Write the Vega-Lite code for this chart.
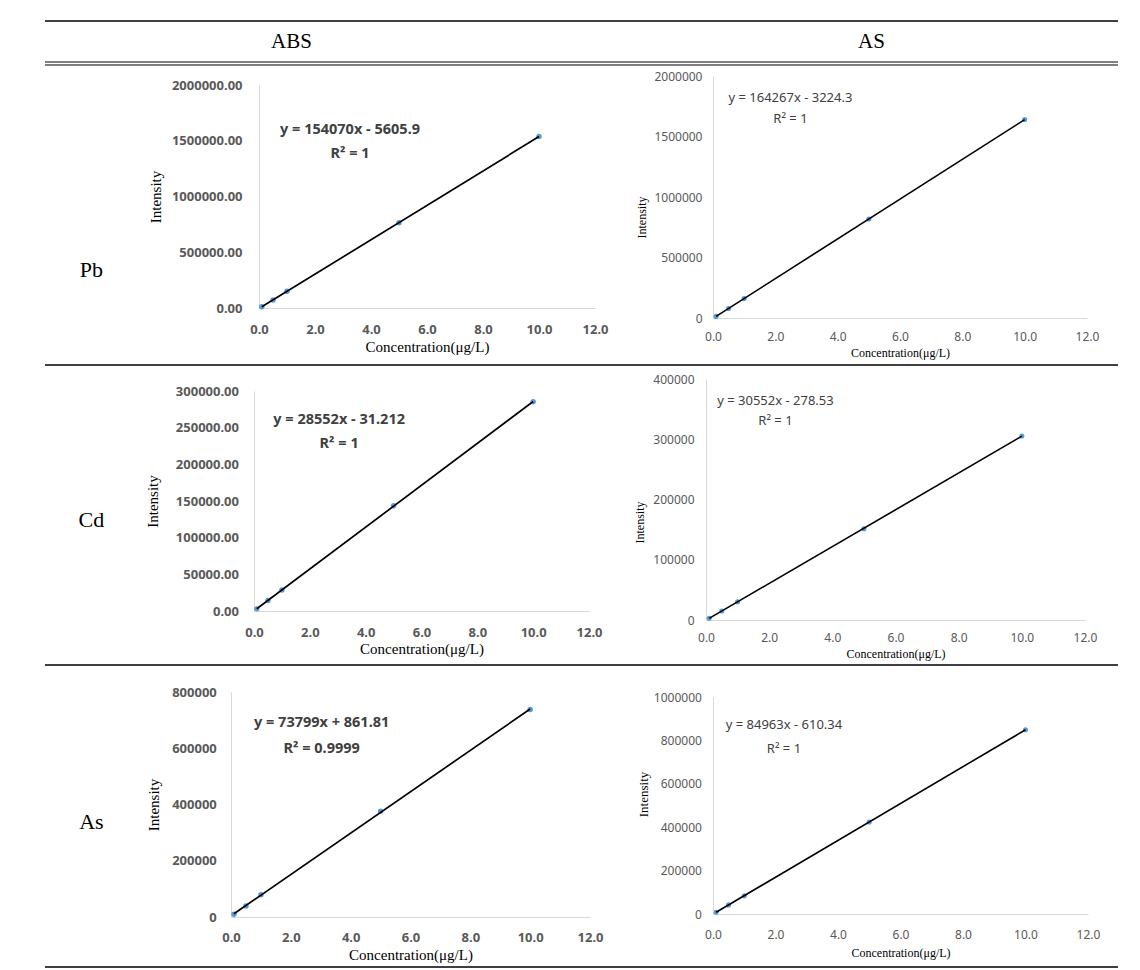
{
  "$schema": "https://vega.github.io/schema/vega-lite/v6.json",
  "background": "white",
  "padding": {"left": 43, "top": 19, "right": 5, "bottom": 0},
  "spacing": 0,
  "config": {
    "view": {"stroke": "transparent"},
    "concat": {"spacing": 0},
    "axis": {
      "grid": false, "ticks": false, "tickSize": 0,
      "domainColor": "#d9d9d9", "domainWidth": 1,
      "labelFont": "Noto Sans", "labelColor": "#595959",
      "labelFlush": false, "labelOverlap": false,
      "titleFont": "Liberation Serif", "titleFontWeight": "normal", "titleColor": "#000000"
    }
  },
  "vconcat": [
    {"width": 1073, "height": 1, "data": {"values": [{}]},
     "mark": {"type": "rule", "color": "#000000", "strokeWidth": 1.3},
     "encoding": {"y": {"datum": 1, "type": "quantitative", "scale": {"domain": [0, 1]}, "axis": null}}},
    {"width": 1073, "height": 35,
     "data": {"values": [{"method": "ABS"}, {"method": "AS"}]},
     "mark": {"type": "text", "font": "Liberation Serif", "fontSize": 21, "color": "#000000"},
     "encoding": {
       "x": {"field": "method", "type": "nominal", "scale": {"type": "point", "padding": 0.425, "align": 0.5}, "axis": null},
       "text": {"field": "method"}
     }},
    {"width": 1073, "height": 3, "data": {"values": [{}]},
     "layer": [
       {"mark": {"type": "rule", "color": "#000000", "strokeWidth": 1.2},
        "encoding": {"y": {"datum": 0, "type": "quantitative", "scale": {"domain": [0, 1]}, "axis": null}}},
       {"mark": {"type": "rule", "color": "#000000", "strokeWidth": 1.2},
        "encoding": {"y": {"datum": 1, "type": "quantitative"}}}
     ]},
    {"spacing": 0, "hconcat": [
      {"width": 101, "height": 294, "data": {"values": [{"element": "Pb"}]},
       "mark": {"type": "text", "font": "Liberation Serif", "fontSize": 22, "color": "#000000"},
       "encoding": {
         "text": {"field": "element"},
         "x": {"datum": 0.459, "type": "quantitative", "scale": {"domain": [0, 1]}, "axis": null},
         "y": {"datum": 0.686, "type": "quantitative", "scale": {"domain": [0, 1], "reverse": true}, "axis": null}
       }},
      {"spacing": 0, "vconcat": [
        {"width": 1, "height": 10, "data": {"values": []}, "mark": "point", "encoding": {}},
        {"width": 336, "height": 223,
         "data": {"values": [
           {"conc": 0.1, "intensity": 10500}, {"conc": 0.5, "intensity": 72000}, {"conc": 1, "intensity": 150000},
           {"conc": 5, "intensity": 765000}, {"conc": 10, "intensity": 1538000}]},
         "layer": [
           {"mark": {"type": "point", "filled": true, "size": 30, "color": "#5B9BD5", "opacity": 1},
            "encoding": {
              "x": {"field": "conc", "type": "quantitative", "scale": {"domain": [0, 12], "nice": false},
                    "axis": {"title": "Concentration(μg/L)", "values": [0, 2, 4, 6, 8, 10, 12], "tickCount": 20, "format": ".1f", "labelOverlap": false,
                             "labelFontSize": 13, "labelFontWeight": "bold", "labelPadding": 15,
                             "titleFontSize": 15, "titlePadding": 3}},
              "y": {"field": "intensity", "type": "quantitative", "scale": {"domain": [0, 2000000], "nice": false},
                    "axis": {"title": "Intensity", "values": [0, 500000, 1000000, 1500000, 2000000], "tickCount": 20, "format": ".2f", "labelOverlap": false,
                             "labelFontSize": 13, "labelFontWeight": "bold", "labelPadding": 17,
                             "titleFontSize": 15, "titlePadding": 8}}
            }},
           {"transform": [{"regression": "intensity", "on": "conc"}],
            "mark": {"type": "line", "color": "#000000", "strokeWidth": 1.7},
            "encoding": {"x": {"field": "conc", "type": "quantitative"}, "y": {"field": "intensity", "type": "quantitative"}}},
           {"data": {"values": [{"eq": "y = 154070x - 5605.9", "r2": "R² = 1"}]},
            "layer": [
              {"mark": {"type": "text", "font": "Noto Sans", "fontSize": 14.5, "fontWeight": "bold", "color": "#404040"},
               "encoding": {"text": {"field": "eq"}, "x": {"datum": 3.25}, "y": {"datum": 1597000}}},
              {"mark": {"type": "text", "font": "Noto Sans", "fontSize": 14.5, "fontWeight": "bold", "color": "#404040"},
               "encoding": {"text": {"field": "r2"}, "x": {"datum": 3.25}, "y": {"datum": 1382000}}}
            ]}
         ]}
      ]},
      {"width": 26, "height": 1, "data": {"values": []}, "mark": "point", "encoding": {}},
      {"spacing": 0, "vconcat": [
        {"width": 1, "height": 1, "data": {"values": []}, "mark": "point", "encoding": {}},
        {"width": 374, "height": 242,
         "data": {"values": [
           {"conc": 0.1, "intensity": 13200}, {"conc": 0.5, "intensity": 79000}, {"conc": 1, "intensity": 161000},
           {"conc": 5, "intensity": 818000}, {"conc": 10, "intensity": 1640000}]},
         "layer": [
           {"mark": {"type": "point", "filled": true, "size": 26, "color": "#5B9BD5", "opacity": 1},
            "encoding": {
              "x": {"field": "conc", "type": "quantitative", "scale": {"domain": [0, 12], "nice": false},
                    "axis": {"title": "Concentration(μg/L)", "values": [0, 2, 4, 6, 8, 10, 12], "tickCount": 20, "format": ".1f", "labelOverlap": false,
                             "labelFontSize": 12, "labelFontWeight": "normal", "labelPadding": 13.5,
                             "titleFontSize": 12, "titlePadding": 5}},
              "y": {"field": "intensity", "type": "quantitative", "scale": {"domain": [0, 2000000], "nice": false},
                    "axis": {"title": "Intensity", "values": [0, 500000, 1000000, 1500000, 2000000], "tickCount": 20, "format": "d", "labelOverlap": false,
                             "labelFontSize": 12, "labelFontWeight": "normal", "labelPadding": 11,
                             "titleFontSize": 12, "titlePadding": 5, "titleY": 141}}
            }},
           {"transform": [{"regression": "intensity", "on": "conc"}],
            "mark": {"type": "line", "color": "#000000", "strokeWidth": 1.6},
            "encoding": {"x": {"field": "conc", "type": "quantitative"}, "y": {"field": "intensity", "type": "quantitative"}}},
           {"data": {"values": [{"eq": "y = 164267x - 3224.3", "r2": "R² = 1"}]},
            "layer": [
              {"mark": {"type": "text", "font": "Noto Sans", "fontSize": 13, "color": "#404040"},
               "encoding": {"text": {"field": "eq"}, "x": {"datum": 2.485}, "y": {"datum": 1816000}}},
              {"mark": {"type": "text", "font": "Noto Sans", "fontSize": 13, "color": "#404040"},
               "encoding": {"text": {"field": "r2"}, "x": {"datum": 2.485}, "y": {"datum": 1643000}}}
            ]}
         ]}
      ]}
    ]},
    {"width": 1073, "height": 1, "data": {"values": [{}]},
     "mark": {"type": "rule", "color": "#000000", "strokeWidth": 1.3},
     "encoding": {"y": {"datum": 1, "type": "quantitative", "scale": {"domain": [0, 1]}, "axis": null}}},
    {"spacing": 0, "hconcat": [
      {"width": 99, "height": 294, "data": {"values": [{"element": "Cd"}]},
       "mark": {"type": "text", "font": "Liberation Serif", "fontSize": 22, "color": "#000000"},
       "encoding": {
         "text": {"field": "element"},
         "x": {"datum": 0.468, "type": "quantitative", "scale": {"domain": [0, 1]}, "axis": null},
         "y": {"datum": 0.518, "type": "quantitative", "scale": {"domain": [0, 1], "reverse": true}, "axis": null}
       }},
      {"spacing": 0, "vconcat": [
        {"width": 1, "height": 16, "data": {"values": []}, "mark": "point", "encoding": {}},
        {"width": 335, "height": 220,
         "data": {"values": [
           {"conc": 0.1, "intensity": 2900}, {"conc": 0.5, "intensity": 14300}, {"conc": 1, "intensity": 28600},
           {"conc": 5, "intensity": 143500}, {"conc": 10, "intensity": 285400}]},
         "layer": [
           {"mark": {"type": "point", "filled": true, "size": 30, "color": "#5B9BD5", "opacity": 1},
            "encoding": {
              "x": {"field": "conc", "type": "quantitative", "scale": {"domain": [0, 12], "nice": false},
                    "axis": {"title": "Concentration(μg/L)", "values": [0, 2, 4, 6, 8, 10, 12], "tickCount": 20, "format": ".1f", "labelOverlap": false,
                             "labelFontSize": 13, "labelFontWeight": "bold", "labelPadding": 15.5,
                             "titleFontSize": 15, "titlePadding": 2}},
              "y": {"field": "intensity", "type": "quantitative", "scale": {"domain": [0, 300000], "nice": false},
                    "axis": {"title": "Intensity", "values": [0, 50000, 100000, 150000, 200000, 250000, 300000], "tickCount": 20, "format": ".2f", "labelOverlap": false,
                             "labelFontSize": 13, "labelFontWeight": "bold", "labelPadding": 15.5,
                             "titleFontSize": 15, "titlePadding": 14.5}}
            }},
           {"transform": [{"regression": "intensity", "on": "conc"}],
            "mark": {"type": "line", "color": "#000000", "strokeWidth": 1.7},
            "encoding": {"x": {"field": "conc", "type": "quantitative"}, "y": {"field": "intensity", "type": "quantitative"}}},
           {"data": {"values": [{"eq": "y = 28552x - 31.212", "r2": "R² = 1"}]},
            "layer": [
              {"mark": {"type": "text", "font": "Noto Sans", "fontSize": 14.5, "fontWeight": "bold", "color": "#404040"},
               "encoding": {"text": {"field": "eq"}, "x": {"datum": 3.05}, "y": {"datum": 260000}}},
              {"mark": {"type": "text", "font": "Noto Sans", "fontSize": 14.5, "fontWeight": "bold", "color": "#404040"},
               "encoding": {"text": {"field": "r2"}, "x": {"datum": 3.05}, "y": {"datum": 228300}}}
            ]}
         ]}
      ]},
      {"width": 30, "height": 1, "data": {"values": []}, "mark": "point", "encoding": {}},
      {"spacing": 0, "vconcat": [
        {"width": 1, "height": 4, "data": {"values": []}, "mark": "point", "encoding": {}},
        {"width": 379, "height": 241,
         "data": {"values": [
           {"conc": 0.1, "intensity": 2800}, {"conc": 0.5, "intensity": 15000}, {"conc": 1, "intensity": 30300},
           {"conc": 5, "intensity": 151500}, {"conc": 10, "intensity": 305500}]},
         "layer": [
           {"mark": {"type": "point", "filled": true, "size": 26, "color": "#5B9BD5", "opacity": 1},
            "encoding": {
              "x": {"field": "conc", "type": "quantitative", "scale": {"domain": [0, 12], "nice": false},
                    "axis": {"title": "Concentration(μg/L)", "values": [0, 2, 4, 6, 8, 10, 12], "tickCount": 20, "format": ".1f", "labelOverlap": false,
                             "labelFontSize": 12, "labelFontWeight": "normal", "labelPadding": 12.4,
                             "titleFontSize": 12, "titlePadding": 5}},
              "y": {"field": "intensity", "type": "quantitative", "scale": {"domain": [0, 400000], "nice": false},
                    "axis": {"title": "Intensity", "values": [0, 100000, 200000, 300000, 400000], "tickCount": 20, "format": "d", "labelOverlap": false,
                             "labelFontSize": 12, "labelFontWeight": "normal", "labelPadding": 12,
                             "titleFontSize": 12, "titlePadding": 6, "titleY": 143}}
            }},
           {"transform": [{"regression": "intensity", "on": "conc"}],
            "mark": {"type": "line", "color": "#000000", "strokeWidth": 1.6},
            "encoding": {"x": {"field": "conc", "type": "quantitative"}, "y": {"field": "intensity", "type": "quantitative"}}},
           {"data": {"values": [{"eq": "y = 30552x - 278.53", "r2": "R² = 1"}]},
            "layer": [
              {"mark": {"type": "text", "font": "Noto Sans", "fontSize": 13, "color": "#404040"},
               "encoding": {"text": {"field": "eq"}, "x": {"datum": 2.2}, "y": {"datum": 364000}}},
              {"mark": {"type": "text", "font": "Noto Sans", "fontSize": 13, "color": "#404040"},
               "encoding": {"text": {"field": "r2"}, "x": {"datum": 2.2}, "y": {"datum": 329500}}}
            ]}
         ]}
      ]}
    ]},
    {"width": 1073, "height": 1, "data": {"values": [{}]},
     "mark": {"type": "rule", "color": "#000000", "strokeWidth": 1.3},
     "encoding": {"y": {"datum": 1, "type": "quantitative", "scale": {"domain": [0, 1]}, "axis": null}}},
    {"spacing": 0, "hconcat": [
      {"width": 100, "height": 296, "data": {"values": [{"element": "As"}]},
       "mark": {"type": "text", "font": "Liberation Serif", "fontSize": 22, "color": "#000000"},
       "encoding": {
         "text": {"field": "element"},
         "x": {"datum": 0.4635, "type": "quantitative", "scale": {"domain": [0, 1]}, "axis": null},
         "y": {"datum": 0.521, "type": "quantitative", "scale": {"domain": [0, 1], "reverse": true}, "axis": null}
       }},
      {"spacing": 0, "vconcat": [
        {"width": 1, "height": 17, "data": {"values": []}, "mark": "point", "encoding": {}},
        {"width": 359, "height": 225,
         "data": {"values": [
           {"conc": 0.1, "intensity": 10000}, {"conc": 0.5, "intensity": 39000}, {"conc": 1, "intensity": 79000},
           {"conc": 5, "intensity": 376000}, {"conc": 10, "intensity": 737500}]},
         "layer": [
           {"mark": {"type": "point", "filled": true, "size": 30, "color": "#5B9BD5", "opacity": 1},
            "encoding": {
              "x": {"field": "conc", "type": "quantitative", "scale": {"domain": [0, 12], "nice": false},
                    "axis": {"title": "Concentration(μg/L)", "values": [0, 2, 4, 6, 8, 10, 12], "tickCount": 20, "format": ".1f", "labelOverlap": false,
                             "labelFontSize": 13, "labelFontWeight": "bold", "labelPadding": 14.5,
                             "titleFontSize": 15, "titlePadding": 2.5}},
              "y": {"field": "intensity", "type": "quantitative", "scale": {"domain": [0, 800000], "nice": false},
                    "axis": {"title": "Intensity", "values": [0, 200000, 400000, 600000, 800000], "tickCount": 20, "format": "d", "labelOverlap": false,
                             "labelFontSize": 13, "labelFontWeight": "bold", "labelPadding": 14.7,
                             "titleFontSize": 15, "titlePadding": 9.7}}
            }},
           {"transform": [{"regression": "intensity", "on": "conc"}],
            "mark": {"type": "line", "color": "#000000", "strokeWidth": 1.7},
            "encoding": {"x": {"field": "conc", "type": "quantitative"}, "y": {"field": "intensity", "type": "quantitative"}}},
           {"data": {"values": [{"eq": "y = 73799x + 861.81", "r2": "R² = 0.9999"}]},
            "layer": [
              {"mark": {"type": "text", "font": "Noto Sans", "fontSize": 14.5, "fontWeight": "bold", "color": "#404040"},
               "encoding": {"text": {"field": "eq"}, "x": {"datum": 3.03}, "y": {"datum": 689800}}},
              {"mark": {"type": "text", "font": "Noto Sans", "fontSize": 14.5, "fontWeight": "bold", "color": "#404040"},
               "encoding": {"text": {"field": "r2"}, "x": {"datum": 3.03}, "y": {"datum": 598800}}}
            ]}
         ]}
      ]},
      {"width": 31.5, "height": 1, "data": {"values": []}, "mark": "point", "encoding": {}},
      {"spacing": 0, "vconcat": [
        {"width": 1, "height": 22, "data": {"values": []}, "mark": "point", "encoding": {}},
        {"width": 375, "height": 217,
         "data": {"values": [
           {"conc": 0.1, "intensity": 7900}, {"conc": 0.5, "intensity": 41900}, {"conc": 1, "intensity": 84400},
           {"conc": 5, "intensity": 424000}, {"conc": 10, "intensity": 849000}]},
         "layer": [
           {"mark": {"type": "point", "filled": true, "size": 26, "color": "#5B9BD5", "opacity": 1},
            "encoding": {
              "x": {"field": "conc", "type": "quantitative", "scale": {"domain": [0, 12], "nice": false},
                    "axis": {"title": "Concentration(μg/L)", "values": [0, 2, 4, 6, 8, 10, 12], "tickCount": 20, "format": ".1f", "labelOverlap": false,
                             "labelFontSize": 12, "labelFontWeight": "normal", "labelPadding": 15,
                             "titleFontSize": 12, "titlePadding": 7}},
              "y": {"field": "intensity", "type": "quantitative", "scale": {"domain": [0, 1000000], "nice": false},
                    "axis": {"title": "Intensity", "values": [0, 200000, 400000, 600000, 800000, 1000000], "tickCount": 20, "format": "d", "labelOverlap": false,
                             "labelFontSize": 12, "labelFontWeight": "normal", "labelPadding": 11.6,
                             "titleFontSize": 13, "titlePadding": 3, "titleY": 97}}
            }},
           {"transform": [{"regression": "intensity", "on": "conc"}],
            "mark": {"type": "line", "color": "#000000", "strokeWidth": 1.6},
            "encoding": {"x": {"field": "conc", "type": "quantitative"}, "y": {"field": "intensity", "type": "quantitative"}}},
           {"data": {"values": [{"eq": "y = 84963x - 610.34", "r2": "R² = 1"}]},
            "layer": [
              {"mark": {"type": "text", "font": "Noto Sans", "fontSize": 13, "color": "#404040"},
               "encoding": {"text": {"field": "eq"}, "x": {"datum": 2.27}, "y": {"datum": 873000}}},
              {"mark": {"type": "text", "font": "Noto Sans", "fontSize": 13, "color": "#404040"},
               "encoding": {"text": {"field": "r2"}, "x": {"datum": 2.27}, "y": {"datum": 762500}}}
            ]}
         ]}
      ]}
    ]},
    {"width": 1073, "height": 1, "data": {"values": [{}]},
     "mark": {"type": "rule", "color": "#000000", "strokeWidth": 1.3},
     "encoding": {"y": {"datum": 1, "type": "quantitative", "scale": {"domain": [0, 1]}, "axis": null}}}
  ]
}
